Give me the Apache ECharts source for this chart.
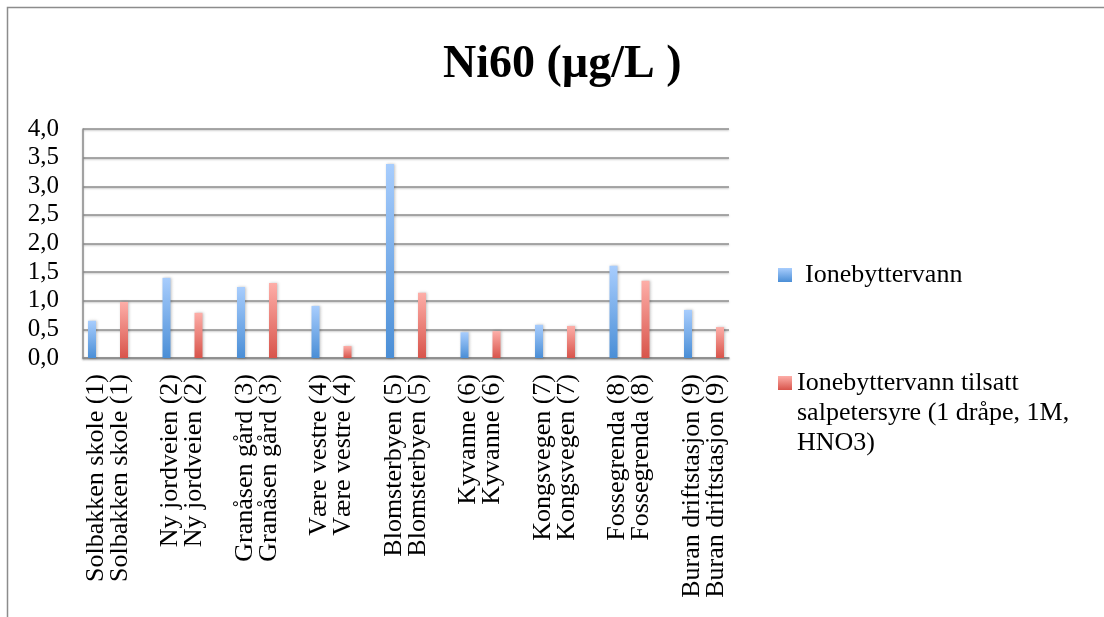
<!DOCTYPE html>
<html>
<head>
<meta charset="utf-8">
<title>Ni60 (µg/L )</title>
<script src="https://cdn.jsdelivr.net/npm/echarts@6/dist/echarts.min.js"></script>
<style>
  html, body { margin: 0; padding: 0; background: #ffffff; }
  #chart { width: 1104px; height: 617px; }
</style>
</head>
<body>
<div id="chart"></div>
<script>
// Sampling sites (each label is printed twice, one line per measurement row)
const sites = [
  'Solbakken skole (1)',
  'Ny jordveien (2)',
  'Granåsen gård (3)',
  'Være vestre (4)',
  'Blomsterbyen (5)',
  'Kyvanne (6)',
  'Kongsvegen (7)',
  'Fossegrenda (8)',
  'Buran driftstasjon (9)'
];

const seriesNames = [
  'Ionebyttervann',
  'Ionebyttervann tilsatt\nsalpetersyre (1 dråpe, 1M,\nHNO3)'
];

// Ni60 concentrations, µg/L
const ionebyttervann = [0.65, 1.40, 1.24, 0.91, 3.39, 0.45, 0.58, 1.61, 0.84];
const medSalpetersyre = [0.98, 0.79, 1.31, 0.21, 1.14, 0.47, 0.56, 1.35, 0.54];

const yTicks = { min: 0, max: 4, step: 0.5 };

const serif = '"Liberation Serif", "Times New Roman", "DejaVu Serif", serif';

function grad(top, bottom) {
  return new echarts.graphic.LinearGradient(0, 0, 0, 1, [
    { offset: 0, color: top },
    { offset: 1, color: bottom }
  ]);
}

const gridLine = {
  color: '#8e8e8e',
  width: 1.5,
  shadowColor: 'rgba(0,0,0,0.25)',
  shadowBlur: 2,
  shadowOffsetY: 1
};

const chart = echarts.init(document.getElementById('chart'), null, { renderer: 'canvas' });

const gridTop = 129, gridHeight = 229;

chart.setOption({
  backgroundColor: '#ffffff',
  animation: false,
  title: {
    text: 'Ni60 (µg/L )',
    left: 438,
    top: 37,
    textStyle: { fontFamily: serif, fontSize: 46, fontWeight: 'bold', color: '#000' }
  },
  graphic: [{
    type: 'rect',
    shape: { x: 7.5, y: 7.5, width: 1200, height: 700 },
    style: { fill: 'none', stroke: '#8c8c8c', lineWidth: 1.5 },
    silent: true
  }],
  legend: [{
    data: [seriesNames[0]],
    orient: 'vertical',
    left: 778,
    top: 260,
    padding: 0,
    itemWidth: 14,
    itemHeight: 14,
    icon: 'rect',
    textStyle: { fontFamily: serif, fontSize: 26, color: '#000', lineHeight: 30, padding: [0, 0, 0, 8] }
  }, {
    data: [seriesNames[1]],
    orient: 'vertical',
    left: 778,
    top: 308,
    padding: 0,
    itemWidth: 14,
    itemHeight: 14,
    icon: 'rect',
    // two blank lines above keep the swatch level with the first line
    formatter: name => '\n\n' + name,
    textStyle: { fontFamily: serif, fontSize: 26, color: '#000', lineHeight: 30 }
  }],
  grid: [
    // frame: gridlines and value axis
    { left: 83, top: gridTop, width: 646, height: gridHeight },
    // bars and site labels
    { left: 70.75, top: gridTop, width: 670.5, height: gridHeight }
  ],
  xAxis: [{
    gridIndex: 0,
    type: 'value',
    min: 0,
    max: 1,
    axisLine: { show: true, lineStyle: gridLine },
    axisTick: { show: false },
    axisLabel: { show: false },
    splitLine: { show: false }
  }, {
    gridIndex: 1,
    type: 'category',
    data: sites,
    axisLine: { show: false },
    axisTick: { show: false },
    axisLabel: {
      rotate: 90,
      margin: 16,
      interval: 0,
      fontFamily: serif,
      fontSize: 26,
      lineHeight: 24,
      color: '#000',
      formatter: v => v + '\n' + v
    }
  }],
  yAxis: [{
    gridIndex: 0,
    type: 'value',
    min: yTicks.min,
    max: yTicks.max,
    interval: yTicks.step,
    axisLine: { show: true, lineStyle: gridLine },
    axisTick: { show: false },
    axisLabel: {
      margin: 24,
      fontFamily: serif,
      fontSize: 25,
      color: '#000',
      formatter: v => v.toFixed(1).replace('.', ',')
    },
    splitLine: { show: true, lineStyle: gridLine }
  }, {
    gridIndex: 1,
    type: 'value',
    min: yTicks.min,
    max: yTicks.max,
    show: false,
    splitLine: { show: false }
  }],
  series: [{
    name: seriesNames[0],
    type: 'bar',
    xAxisIndex: 1,
    yAxisIndex: 1,
    data: ionebyttervann,
    barWidth: 8,
    barGap: '300%',
    itemStyle: {
      color: grad('#a8cdfd', '#4a8ed6'),
      shadowColor: 'rgba(0,0,0,0.25)',
      shadowBlur: 3,
      shadowOffsetX: 1
    }
  }, {
    name: seriesNames[1],
    type: 'bar',
    xAxisIndex: 1,
    yAxisIndex: 1,
    data: medSalpetersyre,
    barWidth: 8,
    barGap: '300%',
    itemStyle: {
      color: grad('#fdaea8', '#d8544b'),
      shadowColor: 'rgba(0,0,0,0.25)',
      shadowBlur: 3,
      shadowOffsetX: 1
    }
  }]
});
</script>
</body>
</html>
